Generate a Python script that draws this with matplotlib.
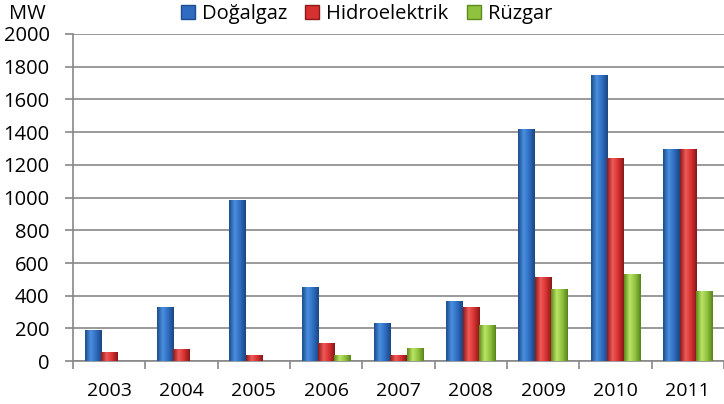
import numpy as np
import matplotlib
matplotlib.use("Agg")
import matplotlib.pyplot as plt
from matplotlib.colors import LinearSegmentedColormap
from matplotlib.patches import Patch

years = ["2003", "2004", "2005", "2006", "2007", "2008", "2009", "2010", "2011"]
dogalgaz = [190, 330, 985, 455, 232, 367, 1419, 1749, 1296]
hidro = [55, 72, 40, 110, 35, 330, 514, 1241, 1298]
ruzgar = [0, 0, 0, 40, 80, 220, 440, 532, 428]

series = [
    ("Doğalgaz", dogalgaz, ["#1d4c8c", "#4a8fe0", "#2f6cc0", "#1b4682"]),
    ("Hidroelektrik", hidro, ["#8c1a1a", "#f05a5a", "#d63030", "#861818"]),
    ("Rüzgar", ruzgar, ["#5c8a1c", "#bce466", "#8fc23e", "#58841a"]),
]

plt.rcParams["font.family"] = ["Open Sans", "DejaVu Sans"]

fig = plt.figure(figsize=(7.24, 4.04), dpi=100)
ax = fig.add_axes([0.101, 0.106, 0.899, 0.810])

x = np.arange(len(years))
w = 0.228
grad = np.linspace(0, 1, 64).reshape(1, -1)

for k, (name, vals, cols) in enumerate(series):
    cmap = LinearSegmentedColormap.from_list(name, cols)
    bars = ax.bar(x + (k - 1) * w, vals, w, color=cols[2], zorder=3, linewidth=0)
    for b in bars:
        if b.get_height() <= 0:
            continue
        im = ax.imshow(grad, cmap=cmap, aspect="auto", zorder=3.5,
                       extent=(b.get_x(), b.get_x() + b.get_width(), 0, b.get_height()))
        im.set_clip_path(b)

ax.set_xlim(-0.5, 8.48)
ax.set_ylim(0, 2000)
ax.set_yticks(range(0, 2001, 200))
ax.set_xticks(x)
ax.set_xticklabels(years)
ax.set_xticks(np.arange(-0.5, 8.6, 1), minor=True)
ax.tick_params(axis="x", which="major", length=0, pad=15, labelsize=14)
ax.tick_params(axis="x", which="minor", length=6, color="#888888", width=1.2)
ax.tick_params(axis="y", length=6, color="#888888", width=1.2, pad=11, labelsize=14.5)

ax.grid(axis="y", color="#9a9a9a", linewidth=1.4, zorder=0)
for s in ["top", "right"]:
    ax.spines[s].set_visible(False)
ax.spines["left"].set_color("#888888")
ax.spines["bottom"].set_color("#888888")
ax.spines["left"].set_linewidth(1.2)
ax.spines["bottom"].set_linewidth(1.2)

fig.text(0.012, 0.965, "MW", fontsize=14.5, va="center", ha="left")

handles = [Patch(facecolor=c[2], edgecolor=c[0]) for _, _, c in series]
fig.legend(handles, [s[0] for s in series], loc="center", bbox_to_anchor=(0.506, 0.966),
           ncol=3, frameon=False, fontsize=14.5, handlelength=0.7, handleheight=0.7,
           handletextpad=0.35, columnspacing=0.9, borderpad=0)

fig.savefig("out.png", dpi=100)
